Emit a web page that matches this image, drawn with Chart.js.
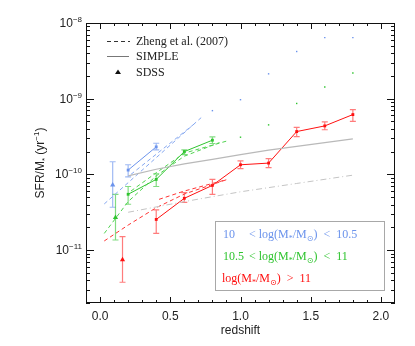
<!DOCTYPE html>
<html>
<head>
<meta charset="utf-8">
<script src="https://cdn.jsdelivr.net/npm/chart.js@4"></script>
<style>
  body { margin: 0; background: #fff; }
  canvas { display: block; }
</style>
</head>
<body>
<canvas id="c" width="415" height="346"></canvas>
<script>
// ---- data ----
const zBlue = [0.2, 0.4];
const sBlue = [1.14e-10, 2.31e-10];
const sBlueLo = [9.3e-11, 2.11e-10];
const sBlueHi = [1.34e-10, 2.58e-10];

const zGreen = [0.2, 0.4, 0.6, 0.8];
const sGreen = [5.46e-11, 8.59e-11, 2.0e-10, 2.83e-10];
const sGreenLo = [4.03e-11, 6.92e-11, 1.83e-10, 2.56e-10];
const sGreenHi = [6.92e-11, 1.02e-10, 2.11e-10, 3.13e-10];

const zRed = [0.4, 0.6, 0.8, 1.0, 1.2, 1.4, 1.6, 1.8];
const sRed = [2.54e-11, 4.83e-11, 7.16e-11, 1.34e-10, 1.41e-10, 3.68e-10, 4.37e-10, 6.17e-10];
const sRedLo = [1.66e-11, 4.27e-11, 5.46e-11, 1.19e-10, 1.23e-10, 3.16e-10, 3.89e-10, 5.01e-10];
const sRedHi = [3.39e-11, 5.75e-11, 8.59e-11, 1.51e-10, 1.62e-10, 4.17e-10, 4.93e-10, 7.16e-10];

// SDSS points (blue, green, red)
const zSdss = [0.09, 0.11, 0.16];
const sSdss = [7.24e-11, 2.69e-11, 7.45e-12];
const sSdssLo = [3.68e-11, 1.36e-11, 3.76e-12];
const sSdssHi = [1.47e-10, 5.46e-11, 1.51e-11];

// SIMPLE model
const zSimple = [0.2, 0.4, 0.6, 0.8, 1.0, 1.2, 1.4, 1.6, 1.8];
const sSimple = [9.55e-11, 1.17e-10, 1.38e-10, 1.58e-10, 1.82e-10, 2.09e-10, 2.34e-10, 2.63e-10, 2.95e-10];
// gray dash-dot line
const zDashDot = [0.2, 0.6, 1.0, 1.4, 1.8];
const sDashDot = [3.16e-11, 4.37e-11, 5.89e-11, 7.59e-11, 9.77e-11];

// Zheng et al. (2007) dashed lines
const zZhB1 = [0.03, 0.72];
const sZhB1 = [4.07e-11, 5.62e-10];
const zZhB2 = [0.22, 0.68];
const sZhB2 = [1.0e-10, 4.79e-10];
const zZhG1 = [0.03, 0.2, 0.4, 0.6, 0.85];
const sZhG1 = [1.66e-11, 4.37e-11, 9.55e-11, 1.74e-10, 2.63e-10];
const zZhG2 = [0.22, 0.4, 0.6, 0.9];
const sZhG2 = [6.03e-11, 1.05e-10, 1.91e-10, 2.75e-10];
const zZhR1 = [0.03, 0.2, 0.4, 0.6, 0.9];
const sZhR1 = [1.32e-11, 2.14e-11, 3.63e-11, 5.5e-11, 8.51e-11];
const zZhR2 = [0.42, 0.6, 0.9];
const sZhR2 = [4.68e-11, 6.03e-11, 8.51e-11];

// sparse dots
const zDotB = [0.8, 1.0, 1.2, 1.4, 1.6, 1.8];
const sDotB = [6.95e-10, 9.70e-10, 2.13e-9, 4.20e-9, 6.41e-9, 6.41e-9];
const zDotG = [1.0, 1.2, 1.4, 1.6, 1.8];
const sDotG = [3.10e-10, 4.51e-10, 8.65e-10, 1.43e-9, 2.18e-9];

const xTicks = [0.0, 0.5, 1.0, 1.5, 2.0];
const yDecades = [-11, -10, -9, -8];

const BLUE = '#6b93ec', GREEN = '#2fc42f', RED = '#ff1010';
const BLUE_L = 'rgba(107,147,236,0.65)', GREEN_L = 'rgba(47,196,47,0.6)', RED_L = 'rgba(255,16,16,0.55)';

const pts = (xs, ys) => xs.map((x, i) => ({ x: x, y: ys[i] }));

function dashed(xs, ys, col) {
    return { data: pts(xs, ys), borderColor: col, borderWidth: 1, borderDash: [4, 3], pointRadius: 0, fill: false };
}

const datasets = [
    { data: pts(zSimple, sSimple), borderColor: '#b9b9b9', borderWidth: 1.2, pointRadius: 0 },
    { data: pts(zDashDot, sDashDot), borderColor: '#c4c4c4', borderWidth: 1, borderDash: [6, 3, 1, 3], pointRadius: 0 },
    dashed(zZhB1, sZhB1, '#86a8f0'),
    dashed(zZhB2, sZhB2, '#86a8f0'),
    dashed(zZhG1, sZhG1, '#4fd24f'),
    dashed(zZhG2, sZhG2, '#4fd24f'),
    dashed(zZhR1, sZhR1, '#ff3333'),
    dashed(zZhR2, sZhR2, '#ff3333'),
    { data: pts(zDotB, sDotB), showLine: false, pointStyle: 'rect', pointRadius: 1, backgroundColor: BLUE, borderWidth: 0 },
    { data: pts(zDotG, sDotG), showLine: false, pointStyle: 'rect', pointRadius: 1, backgroundColor: GREEN, borderWidth: 0 },
    { data: pts(zBlue, sBlue), borderColor: BLUE, borderWidth: 1, pointStyle: 'rect', pointRadius: 2, backgroundColor: BLUE, pointBorderWidth: 0,
      errLo: sBlueLo, errHi: sBlueHi, errColor: BLUE_L },
    { data: pts(zGreen, sGreen), borderColor: GREEN, borderWidth: 1, pointStyle: 'rect', pointRadius: 2, backgroundColor: GREEN, pointBorderWidth: 0,
      errLo: sGreenLo, errHi: sGreenHi, errColor: GREEN_L },
    { data: pts(zRed, sRed), borderColor: RED, borderWidth: 1, pointStyle: 'rect', pointRadius: 2, backgroundColor: RED, pointBorderWidth: 0,
      errLo: sRedLo, errHi: sRedHi, errColor: RED_L },
    { data: pts(zSdss, sSdss), showLine: false, pointStyle: 'triangle', pointRadius: 3,
      backgroundColor: [BLUE, GREEN, RED], borderWidth: 0,
      errLo: sSdssLo, errHi: sSdssHi, errColor: [BLUE_L, GREEN_L, RED_L] }
];

// text with sub/superscripts: runs of [text, mode] (0 normal, 1 sub, 2 sup)
function runs(ctx, x, y, parts, big, small, align) {
    let w = 0;
    parts.forEach(p => { ctx.font = p[1] ? small : big; w += ctx.measureText(p[0]).width; });
    let cx = align === 'right' ? x - w : (align === 'center' ? x - w / 2 : x);
    ctx.textAlign = 'left';
    parts.forEach(p => {
        ctx.font = p[1] ? small : big;
        let dy = p[1] === 1 ? 3 : (p[1] === 2 ? -5 : 0);
        ctx.fillText(p[0], cx, y + dy);
        cx += ctx.measureText(p[0]).width;
    });
}

const decor = {
    id: 'decor',
    beforeDatasetsDraw(chart) {
        const ctx = chart.ctx, xs = chart.scales.x, ys = chart.scales.y;
        ctx.save();
        chart.data.datasets.forEach(ds => {
            if (!ds.errLo) return;
            ds.data.forEach((p, i) => {
                const px = xs.getPixelForValue(p.x);
                const y1 = ys.getPixelForValue(ds.errLo[i]), y2 = ys.getPixelForValue(ds.errHi[i]);
                ctx.strokeStyle = Array.isArray(ds.errColor) ? ds.errColor[i] : ds.errColor;
                ctx.lineWidth = 1.2;
                ctx.beginPath();
                ctx.moveTo(px, y1); ctx.lineTo(px, y2);
                ctx.moveTo(px - 3, y1); ctx.lineTo(px + 3, y1);
                ctx.moveTo(px - 3, y2); ctx.lineTo(px + 3, y2);
                ctx.stroke();
            });
        });
        ctx.restore();
    },
    afterDraw(chart) {
        const ctx = chart.ctx, a = chart.chartArea, xs = chart.scales.x, ys = chart.scales.y;
        ctx.save();
        // frame
        ctx.strokeStyle = '#111';
        ctx.lineWidth = 1;
        ctx.strokeRect(a.left + 0.5, a.top + 0.5, a.right - a.left - 1, a.bottom - a.top - 1);
        ctx.beginPath();
        // x ticks
        for (let k = 0; k <= 20; k++) {
            const v = k / 10;
            const px = Math.round(xs.getPixelForValue(v)) + 0.5;
            const len = (k % 5 === 0) ? 6 : 3;
            ctx.moveTo(px, a.bottom); ctx.lineTo(px, a.bottom - len);
            ctx.moveTo(px, a.top); ctx.lineTo(px, a.top + len);
        }
        // y ticks
        for (let d = -12; d <= -8; d++) {
            for (let m = 1; m <= 9; m++) {
                const v = m * Math.pow(10, d);
                if (v < ys.min * 0.999 || v > ys.max * 1.001) continue;
                const py = Math.round(ys.getPixelForValue(v)) + 0.5;
                const len = m === 1 ? 8 : 4;
                ctx.moveTo(a.left, py); ctx.lineTo(a.left + len, py);
                ctx.moveTo(a.right, py); ctx.lineTo(a.right - len, py);
            }
        }
        ctx.stroke();

        // tick labels
        ctx.fillStyle = '#222';
        ctx.textBaseline = 'alphabetic';
        ctx.font = '12px "Liberation Sans", Arial, sans-serif';
        ctx.textAlign = 'center';
        xTicks.forEach(v => ctx.fillText(v.toFixed(1), xs.getPixelForValue(v), a.bottom + 17));
        yDecades.forEach(d => {
            const py = ys.getPixelForValue(Math.pow(10, d));
            runs(ctx, a.left - 4, py + 4, [['10', 0], ['\u2212' + (-d), 2]],
                 '12px "Liberation Sans", sans-serif', '8px "Liberation Sans", sans-serif', 'right');
        });

        // axis titles
        ctx.font = '12px "Liberation Sans", sans-serif';
        ctx.textAlign = 'center';
        ctx.fillText('redshift', (a.left + a.right) / 2, a.bottom + 31);
        ctx.save();
        ctx.translate(44, (a.top + a.bottom) / 2);
        ctx.rotate(-Math.PI / 2);
        runs(ctx, 0, 0, [['SFR/M', 0], ['*', 1], [' (yr', 0], ['\u22121', 2], [')', 0]],
             '12px "Liberation Sans", sans-serif', '8px "Liberation Sans", sans-serif', 'center');
        ctx.restore();

        // top-left legend
        const serif = '12px "Liberation Serif", "Times New Roman", serif';
        ctx.strokeStyle = '#333';
        ctx.lineWidth = 1;
        ctx.setLineDash([4, 3]);
        ctx.beginPath(); ctx.moveTo(107, 41.5); ctx.lineTo(130, 41.5); ctx.stroke();
        ctx.setLineDash([]);
        ctx.strokeStyle = '#777';
        ctx.beginPath(); ctx.moveTo(107, 56.5); ctx.lineTo(129, 56.5); ctx.stroke();
        ctx.fillStyle = '#111';
        ctx.beginPath(); ctx.moveTo(118, 69.5); ctx.lineTo(121, 74); ctx.lineTo(115, 74); ctx.closePath(); ctx.fill();
        ctx.font = serif;
        ctx.textAlign = 'left';
        ctx.fillStyle = '#222';
        ctx.fillText('Zheng et al. (2007)', 136, 45);
        ctx.fillText('SIMPLE', 136, 60);
        ctx.fillText('SDSS', 136, 76);

        // bottom-right box legend
        ctx.strokeStyle = '#a8a8a8';
        ctx.strokeRect(215.5, 221.5, 169, 69);
        const sm = '8px "Liberation Serif", "DejaVu Sans", serif';
        ctx.fillStyle = BLUE;
        ctx.font = serif;
        ctx.fillText('10', 223, 238);
        runs(ctx, 249, 238, [['< log(M', 0], ['*', 1], ['/M', 0], ['\u2299', 1], [')  <  10.5', 0]], serif, sm, 'left');
        ctx.fillStyle = GREEN;
        ctx.font = serif;
        ctx.fillText('10.5', 223, 260);
        runs(ctx, 249, 260, [['< log(M', 0], ['*', 1], ['/M', 0], ['\u2299', 1], [')  <  11', 0]], serif, sm, 'left');
        ctx.fillStyle = RED;
        runs(ctx, 222, 282, [['log(M', 0], ['*', 1], ['/M', 0], ['\u2299', 1], [')  >  11', 0]], serif, sm, 'left');
        ctx.restore();
    }
};

new Chart(document.getElementById('c'), {
    type: 'line',
    data: { datasets: datasets },
    options: {
        responsive: false,
        animation: false,
        layout: { padding: { left: 86, right: 20, top: 23, bottom: 43 } },
        plugins: { legend: { display: false }, tooltip: { enabled: false } },
        elements: { line: { tension: 0 } },
        scales: {
            x: { type: 'linear', min: -0.1, max: 2.1, display: false },
            y: { type: 'logarithmic', min: 2e-12, max: 1e-8, display: false }
        }
    },
    plugins: [decor]
});
</script>
</body>
</html>
